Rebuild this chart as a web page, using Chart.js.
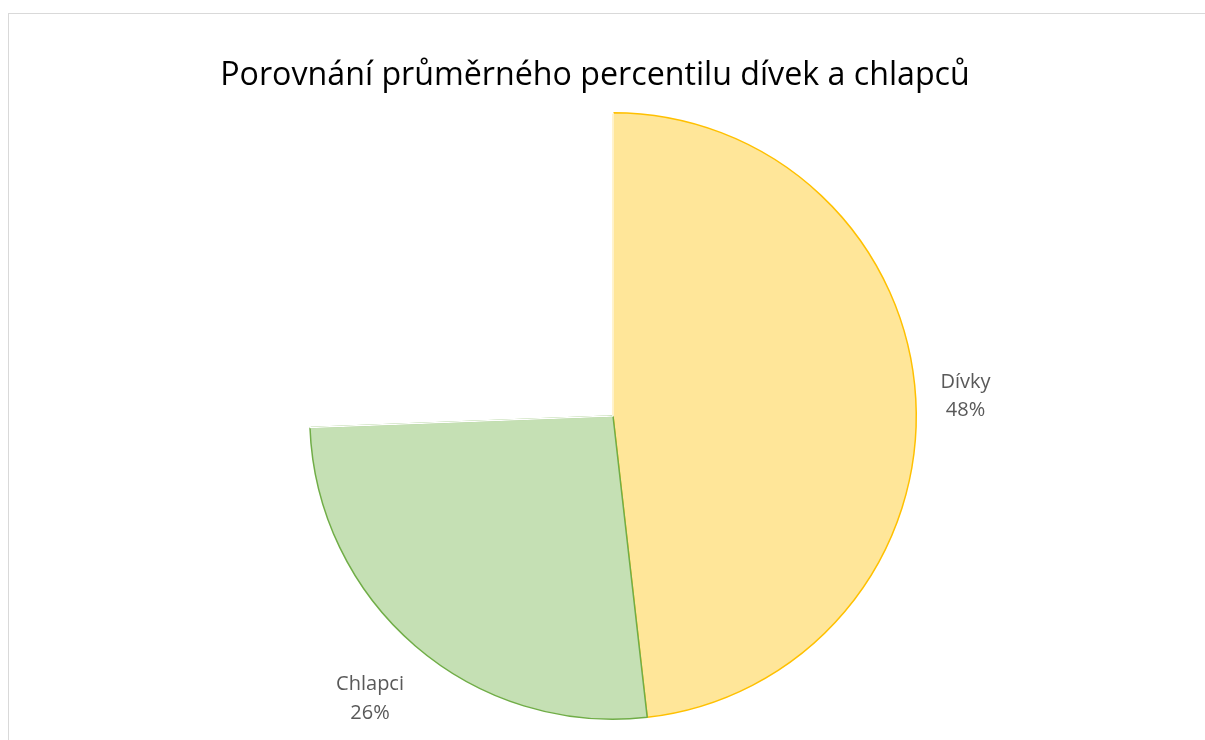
<!DOCTYPE html>
<html>
<head>
<meta charset="utf-8">
<script src="https://cdn.jsdelivr.net/npm/chart.js@4/dist/chart.umd.min.js"></script>
<style>
  html,body{margin:0;padding:0;background:#fff;}
  #wrap{position:relative;width:1205px;height:740px;overflow:hidden;}
  #frame{position:absolute;left:8px;top:13px;width:1210px;height:740px;border:1px solid #d9d9d9;box-sizing:border-box;}
  canvas{position:absolute;left:0;top:0;}
</style>
</head>
<body>
<div id="wrap">
  <div id="frame"></div>
  <canvas id="c" width="1205" height="740"></canvas>
</div>
<script>
const titleText = 'Porovnání průměrného percentilu dívek a chlapců';
const categories = ['Dívky', 'Chlapci', ''];
const values = [48.2, 26.2, 25.6];
const percentLabels = ['48%', '26%', ''];

const fills = ['#FFE699', '#C5E0B4', 'rgba(255,255,255,0)'];
const borders = ['#FFC000', '#70AD47', '#ffffff'];

const titlePlugin = {
  id: 'excelTitle',
  afterDraw(chart) {
    const ctx = chart.ctx;
    ctx.save();
    ctx.font = '32.2px "Open Sans", sans-serif';
    ctx.fillStyle = '#000000';
    ctx.textAlign = 'center';
    ctx.textBaseline = 'alphabetic';
    ctx.fillText(titleText, 595, 85);
    ctx.restore();
  }
};

const labelPlugin = {
  id: 'outerLabels',
  afterDatasetsDraw(chart) {
    const ctx = chart.ctx;
    const meta = chart.getDatasetMeta(0);
    ctx.save();
    ctx.font = '20px "Open Sans", sans-serif';
    ctx.fillStyle = '#595959';
    ctx.textAlign = 'center';
    ctx.textBaseline = 'middle';
    meta.data.forEach((arc, i) => {
      if (!categories[i]) return;
      const p = arc.getProps(['x','y','startAngle','endAngle','outerRadius'], true);
      const mid = (p.startAngle + p.endAngle) / 2;
      const cx = Math.cos(mid), sy = Math.sin(mid);
      const w1 = ctx.measureText(categories[i]).width;
      const w2 = ctx.measureText(percentLabels[i]).width;
      const hw = Math.max(w1, w2) / 2 + 2;
      const hh = 33;
      const d = p.outerRadius + 21 + Math.abs(cx) * hw + Math.abs(sy) * hh;
      const lx = p.x + cx * d, ly = p.y + sy * d;
      ctx.fillText(categories[i], lx, ly - 14);
      ctx.fillText(percentLabels[i], lx, ly + 14.5);
    });
    ctx.restore();
  }
};

new Chart(document.getElementById('c'), {
  type: 'pie',
  data: {
    labels: categories,
    datasets: [{
      data: values,
      backgroundColor: fills,
      borderColor: borders,
      borderWidth: 1.5,
      hoverOffset: 0
    }]
  },
  options: {
    responsive: false,
    animation: false,
    events: [],
    layout: { padding: { left: 21, right: 0, top: 112, bottom: 20 } },
    plugins: {
      legend: { display: false },
      tooltip: { enabled: false },
      title: { display: false }
    }
  },
  plugins: [labelPlugin, titlePlugin]
});
</script>
</body>
</html>
